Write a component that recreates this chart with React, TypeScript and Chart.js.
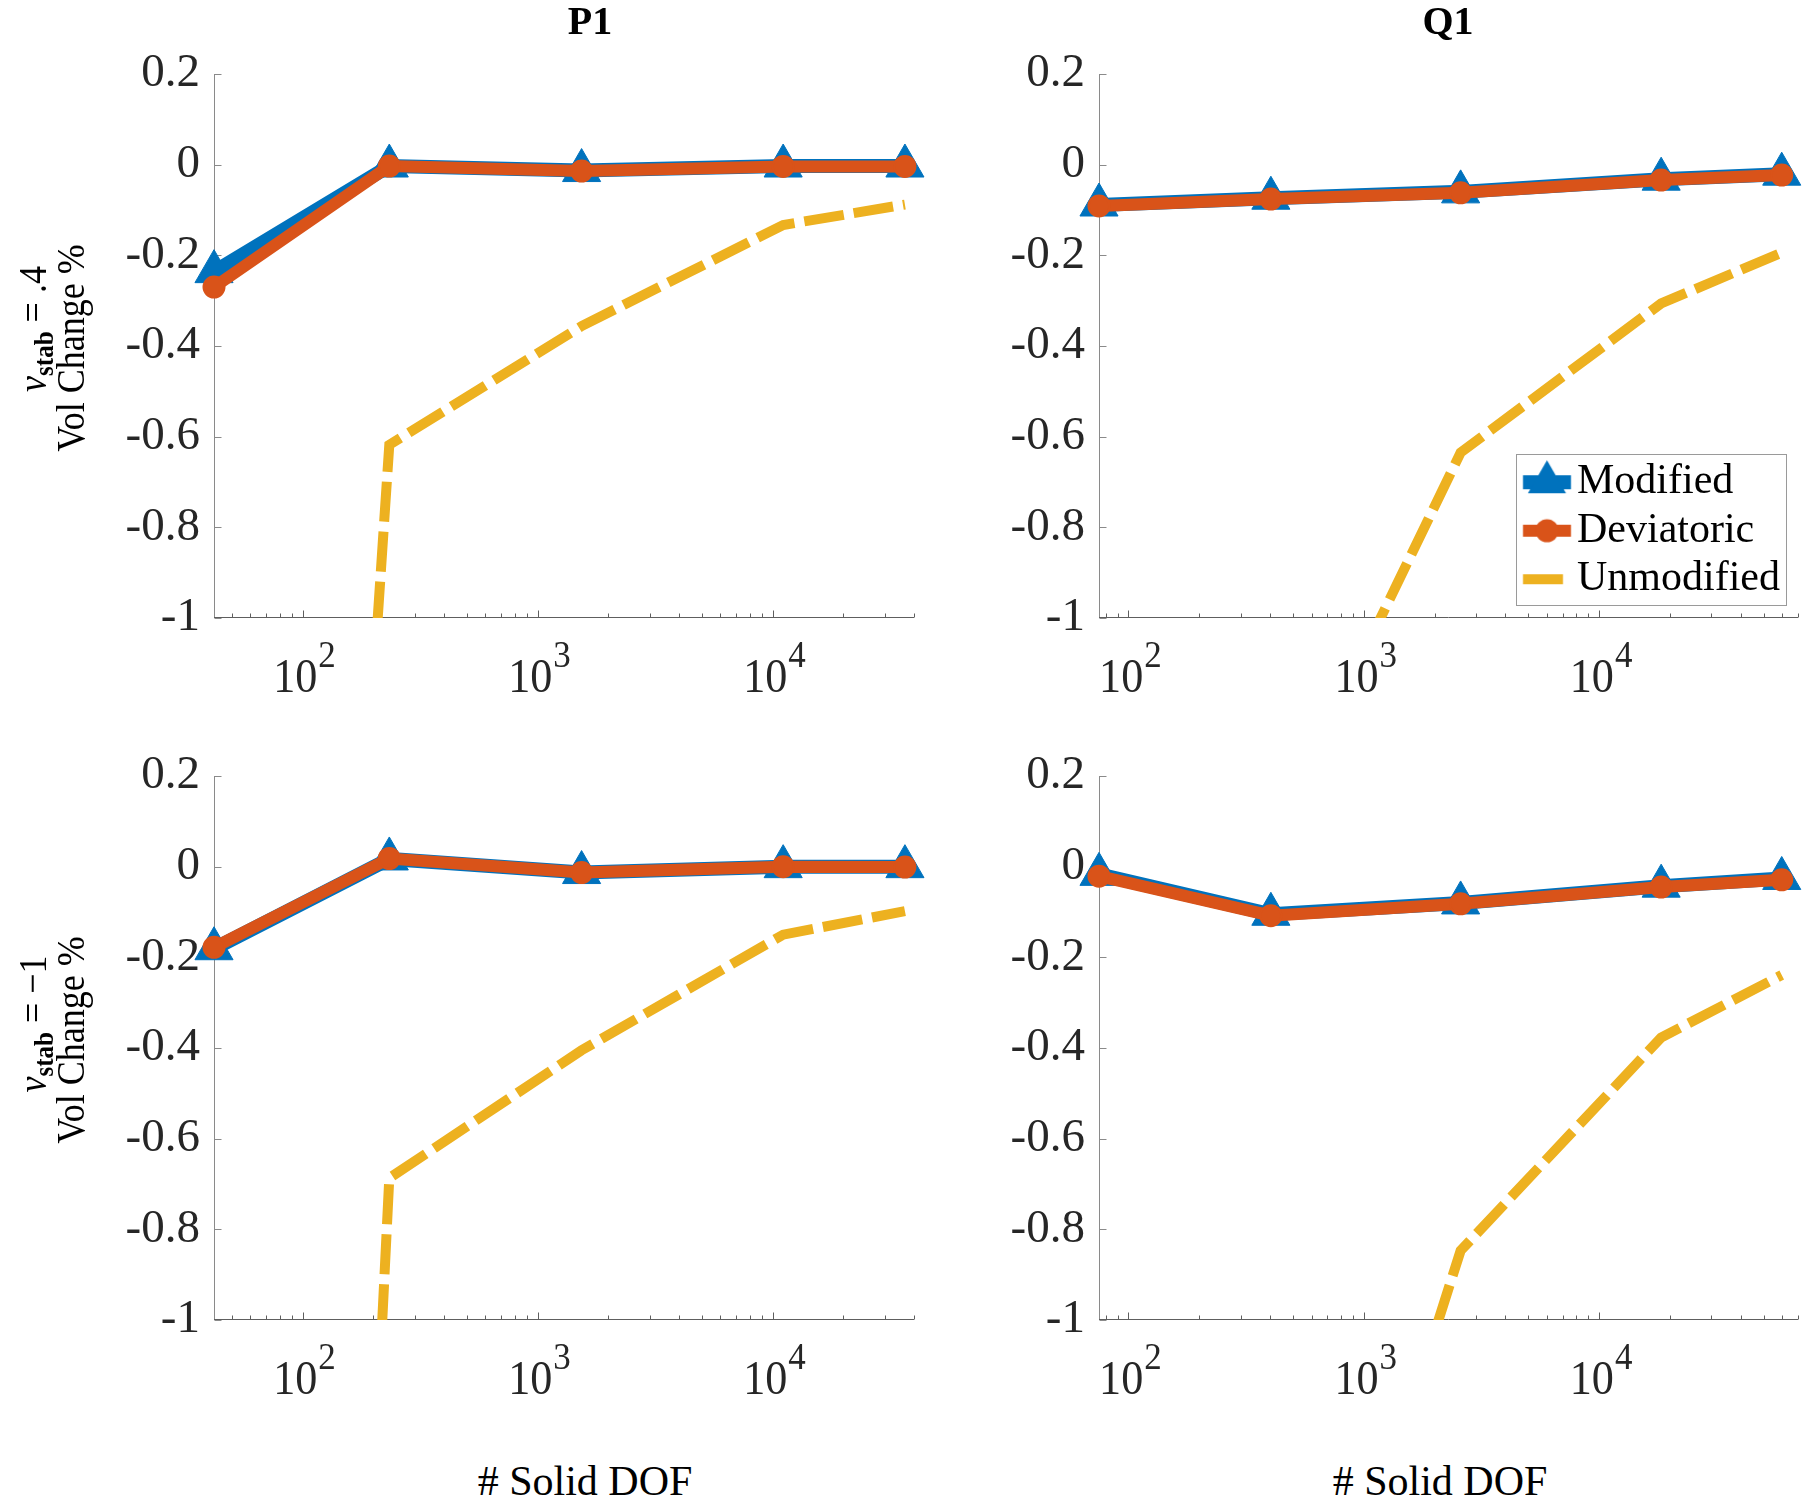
import React, { useEffect, useRef } from 'react';
import { Chart, registerables } from 'chart.js';

Chart.register(...registerables);

const SERIF = "'Liberation Serif', 'Times New Roman', Times, serif";
const TICK_COLOR = '#262626';

// ---------- data ----------
const SERIES = ['Modified', 'Deviatoric', 'Unmodified'];
const COLORS = ['#0072BD', '#D95319', '#EDB120'];

const P1_DOF = [42, 234, 1540, 11100, 36600];
const Q1_DOF = [75, 403, 2580, 18350, 59700];

const P1_NU04_MODIFIED = [-0.236, -0.003, -0.013, -0.003, -0.003];
const P1_NU04_DEVIATORIC = [-0.27, -0.003, -0.014, -0.004, -0.004];
const P1_NU04_UNMODIFIED = [-6.4, -0.618, -0.356, -0.133, -0.088];

const Q1_NU04_MODIFIED = [-0.089, -0.074, -0.06, -0.032, -0.021];
const Q1_NU04_DEVIATORIC = [-0.091, -0.076, -0.062, -0.034, -0.023];
const Q1_NU04_UNMODIFIED = [-2.6, -1.5, -0.635, -0.306, -0.194];

const P1_NUM1_MODIFIED = [-0.181, 0.017, -0.013, 0.0, 0.0];
const P1_NUM1_DEVIATORIC = [-0.178, 0.018, -0.013, 0.0, -0.001];
const P1_NUM1_UNMODIFIED = [-8.5, -0.687, -0.405, -0.15, -0.098];

const Q1_NUM1_MODIFIED = [-0.017, -0.105, -0.08, -0.043, -0.026];
const Q1_NUM1_DEVIATORIC = [-0.021, -0.108, -0.082, -0.045, -0.029];
const Q1_NUM1_UNMODIFIED = [-4.0, -2.16, -0.847, -0.377, -0.239];

const Y_TICKS = [-1, -0.8, -0.6, -0.4, -0.2, 0, 0.2];
const Y_LIM = [-1, 0.2];
const X_DECADES = [100, 1000, 10000];
const X_DECADE_EXPONENTS = ['2', '3', '4'];
const P1_XLIM = [42, 40000];
const Q1_XLIM = [75, 70000];
const COLUMN_TITLES = ['P1', 'Q1'];
const ROW_NU_VALUES = ['.4', '\u22121'];
const Y_TITLE = 'Vol Change %';
const X_TITLE = '# Solid DOF';

// ---------- layout ----------
const PAD_L = 200;
const PAD_T = 60;
const PAD_R = 30;
const PAD_B = 100;

const LEGEND_BOX = { left: 1516, top: 454, right: 1786, bottom: 605 };
const LEGEND_FONT = 42;
const LEGEND_PAD = 6.5;
const LEGEND_BOXW = 33.5;

const PANELS = [
  { key: 'tl', dof: P1_DOF, xlim: P1_XLIM, mod: P1_NU04_MODIFIED, dev: P1_NU04_DEVIATORIC, unmod: P1_NU04_UNMODIFIED, box: { L: 214, T: 74, R: 914, B: 618 }, legend: false },
  { key: 'tr', dof: Q1_DOF, xlim: Q1_XLIM, mod: Q1_NU04_MODIFIED, dev: Q1_NU04_DEVIATORIC, unmod: Q1_NU04_UNMODIFIED, box: { L: 1099, T: 74, R: 1798, B: 618 }, legend: true },
  { key: 'bl', dof: P1_DOF, xlim: P1_XLIM, mod: P1_NUM1_MODIFIED, dev: P1_NUM1_DEVIATORIC, unmod: P1_NUM1_UNMODIFIED, box: { L: 214, T: 776, R: 914, B: 1320 }, legend: false },
  { key: 'br', dof: Q1_DOF, xlim: Q1_XLIM, mod: Q1_NUM1_MODIFIED, dev: Q1_NUM1_DEVIATORIC, unmod: Q1_NUM1_UNMODIFIED, box: { L: 1099, T: 776, R: 1798, B: 1320 }, legend: false },
];

const LINE_W = [14, 12, 10];
const DASH = [40, 10];
const TRI_R = 22;
const CIRC_R = 10.5;

function makeIcons(): HTMLCanvasElement[] {
  const icons: HTMLCanvasElement[] = [];
  const iconW = 72;
  // content centre is shifted so that the icon sits at the MATLAB position
  const shift = LEGEND_BOX.left + 31 - (LEGEND_BOX.left + LEGEND_PAD + LEGEND_BOXW / 2);
  for (let i = 0; i < 3; i++) {
    const c = document.createElement('canvas');
    c.width = iconW;
    c.height = 50;
    const g = c.getContext('2d') as CanvasRenderingContext2D;
    const cx = iconW / 2 + shift;
    const cy = 25;
    g.strokeStyle = COLORS[i];
    g.fillStyle = COLORS[i];
    g.lineWidth = LINE_W[i];
    if (i === 2) g.setLineDash(DASH);
    g.beginPath();
    g.moveTo(cx - 24, cy);
    g.lineTo(cx + 24, cy);
    g.stroke();
    g.setLineDash([]);
    if (i === 0) {
      g.beginPath();
      let rad = 0;
      g.moveTo(cx + Math.sin(rad) * TRI_R, cy - Math.cos(rad) * TRI_R);
      rad += (2 * Math.PI) / 3;
      g.lineTo(cx + Math.sin(rad) * TRI_R, cy - Math.cos(rad) * TRI_R);
      rad += (2 * Math.PI) / 3;
      g.lineTo(cx + Math.sin(rad) * TRI_R, cy - Math.cos(rad) * TRI_R);
      g.closePath();
      g.fill();
    } else if (i === 1) {
      g.beginPath();
      g.arc(cx, cy, CIRC_R + 1, 0, Math.PI * 2);
      g.fill();
    }
    icons.push(c);
  }
  return icons;
}

const axesPlugin = {
  id: 'matlabAxes',
  beforeDatasetsDraw(chart: any) {
    const { ctx, chartArea: a, scales } = chart;
    const xs = scales.x;
    const ys = scales.y;
    ctx.save();
    ctx.lineWidth = 1;
    ctx.strokeStyle = '#8a8a8a';
    ctx.beginPath();
    const ax = Math.round(a.left) + 0.5;
    ctx.moveTo(ax, a.top);
    ctx.lineTo(ax, a.bottom);
    for (const v of Y_TICKS) {
      const py = Math.round(ys.getPixelForValue(v)) + 0.5;
      ctx.moveTo(ax, py);
      ctx.lineTo(ax + 7, py);
    }
    ctx.stroke();
    ctx.strokeStyle = '#5e5e5e';
    ctx.beginPath();
    const by = Math.round(a.bottom) - 0.5;
    ctx.moveTo(a.left, by);
    ctx.lineTo(a.right, by);
    const mn = xs.min;
    const mx = xs.max;
    for (let e = Math.floor(Math.log10(mn)); e <= Math.ceil(Math.log10(mx)); e++) {
      for (let m = 1; m <= 9; m++) {
        const v = m * Math.pow(10, e);
        if (v < mn * 0.9999 || v > mx * 1.0001) continue;
        const px = Math.round(xs.getPixelForValue(v)) + 0.5;
        const len = m === 1 ? 7 : 4;
        ctx.moveTo(px, by);
        ctx.lineTo(px, by - len);
      }
    }
    ctx.stroke();
    ctx.restore();
  },
  afterDraw(chart: any) {
    const { ctx, chartArea: a, scales } = chart;
    const xs = scales.x;
    const sx = 0.92;
    ctx.save();
    ctx.fillStyle = TICK_COLOR;
    ctx.textBaseline = 'alphabetic';
    ctx.textAlign = 'left';
    X_DECADES.forEach((v, i) => {
      const px = xs.getPixelForValue(v);
      ctx.font = `48px ${SERIF}`;
      const wb = ctx.measureText('10').width * sx;
      ctx.font = `38px ${SERIF}`;
      const we = ctx.measureText(X_DECADE_EXPONENTS[i]).width * sx;
      const total = wb + we + 1;
      const x0 = px - total / 2 + 2;
      ctx.save();
      ctx.translate(x0, a.bottom + 74);
      ctx.scale(sx, 1);
      ctx.font = `48px ${SERIF}`;
      ctx.fillText('10', 0, 0);
      ctx.restore();
      ctx.save();
      ctx.translate(x0 + wb + 1, a.bottom + 49);
      ctx.scale(sx, 1);
      ctx.font = `38px ${SERIF}`;
      ctx.fillText(X_DECADE_EXPONENTS[i], 0, 0);
      ctx.restore();
    });
    ctx.restore();
  },
};

function PanelChart({ panel }: { panel: any }) {
  const ref = useRef<HTMLCanvasElement>(null);
  const { L, T, R, B } = panel.box;
  const W = R - L + PAD_L + PAD_R;
  const H = B - T + PAD_T + PAD_B;
  const cLeft = L - PAD_L;
  const cTop = T - PAD_T;

  useEffect(() => {
    const canvas = ref.current as HTMLCanvasElement;
    const icons = makeIcons();
    const toPts = (ys: number[]) => panel.dof.map((x: number, i: number) => ({ x, y: ys[i] }));

    const legendPlugin = {
      id: 'legendPlace',
      afterLayout(chart: any) {
        const lg = chart.legend;
        if (!lg || !panel.legend) return;
        lg.left = LEGEND_BOX.left - cLeft;
        lg.top = LEGEND_BOX.top + 0.7 - cTop;
        lg.right = W;
        lg.bottom = H;
      },
      afterDraw(chart: any) {
        if (!panel.legend) return;
        const ctx = chart.ctx;
        ctx.save();
        ctx.strokeStyle = '#9a9a9a';
        ctx.lineWidth = 1;
        ctx.strokeRect(
          LEGEND_BOX.left - cLeft + 0.5,
          LEGEND_BOX.top - cTop + 0.5,
          LEGEND_BOX.right - LEGEND_BOX.left,
          LEGEND_BOX.bottom - LEGEND_BOX.top
        );
        ctx.restore();
      },
    };

    const chart = new Chart(canvas, {
      type: 'line',
      data: {
        datasets: [
          {
            label: SERIES[0],
            data: toPts(panel.mod),
            borderColor: COLORS[0],
            backgroundColor: COLORS[0],
            borderWidth: LINE_W[0],
            pointStyle: 'triangle',
            pointRadius: TRI_R,
            pointBorderWidth: 1,
            pointBackgroundColor: COLORS[0],
            pointBorderColor: COLORS[0],
            order: 1,
            clip: false,
          },
          {
            label: SERIES[1],
            data: toPts(panel.dev),
            borderColor: COLORS[1],
            backgroundColor: COLORS[1],
            borderWidth: LINE_W[1],
            pointStyle: 'circle',
            pointRadius: CIRC_R,
            pointBorderWidth: 2,
            pointBackgroundColor: COLORS[1],
            pointBorderColor: COLORS[1],
            order: 0,
            clip: false,
          },
          {
            label: SERIES[2],
            data: toPts(panel.unmod),
            borderColor: COLORS[2],
            backgroundColor: COLORS[2],
            borderWidth: LINE_W[2],
            borderDash: DASH,
            pointRadius: 0,
            order: 2,
            clip: 0,
          },
        ],
      } as any,
      options: {
        animation: false,
        responsive: false,
        devicePixelRatio: 1,
        events: [],
        layout: { padding: { left: 0, top: PAD_T, right: PAD_R, bottom: 0 } },
        elements: { line: { tension: 0 } },
        scales: {
          x: {
            type: 'logarithmic',
            min: panel.xlim[0],
            max: panel.xlim[1],
            ticks: { display: false },
            grid: { display: false, drawTicks: false },
            border: { display: false },
            afterFit: (s: any) => {
              s.height = PAD_B;
            },
          },
          y: {
            type: 'linear',
            min: Y_LIM[0],
            max: Y_LIM[1],
            ticks: {
              stepSize: 0.2,
              padding: 14,
              color: TICK_COLOR,
              font: { family: SERIF, size: 47 },
              callback: (v: any) => String(Number(Number(v).toFixed(1))),
            },
            grid: { display: false, drawTicks: false },
            border: { display: false },
            afterFit: (s: any) => {
              s.width = PAD_L;
            },
          },
        },
        plugins: {
          tooltip: { enabled: false },
          title: { display: false },
          legend: {
            display: panel.legend,
            position: 'chartArea',
            align: 'start',
            labels: {
              usePointStyle: true,
              pointStyleWidth: LEGEND_BOXW,
              padding: LEGEND_PAD,
              color: '#000',
              font: { family: SERIF, size: LEGEND_FONT },
              generateLabels: () =>
                SERIES.map((name, i) => ({
                  text: name,
                  fillStyle: COLORS[i],
                  strokeStyle: COLORS[i],
                  lineWidth: 0,
                  pointStyle: icons[i],
                  hidden: false,
                  datasetIndex: i,
                  fontColor: '#000',
                })),
            },
          },
        },
      } as any,
      plugins: [axesPlugin, legendPlugin],
    });
    return () => chart.destroy();
  }, []);

  return (
    <canvas
      ref={ref}
      width={W}
      height={H}
      style={{ position: 'absolute', left: cLeft, top: cTop, width: W, height: H }}
    />
  );
}

function TextAt({ x, baseline, size, bold, children }: any) {
  const lh = Math.round(size * 1.2);
  const top = baseline - (lh - 1.107 * size) / 2 - 0.891 * size;
  return (
    <div
      style={{
        position: 'absolute',
        left: x - 300,
        width: 600,
        top,
        textAlign: 'center',
        fontFamily: SERIF,
        fontSize: size,
        fontWeight: bold ? 'bold' : 'normal',
        lineHeight: `${lh}px`,
        color: '#000',
        whiteSpace: 'nowrap',
      }}
    >
      {children}
    </div>
  );
}

// rotated text, centred on (cx, cy); glyph heights stretched like the reference
function RotText({ cx, cy, size, children }: any) {
  return (
    <div
      style={{
        position: 'absolute',
        left: cx,
        top: cy,
        transform: 'translate(-50%, -50%) rotate(-90deg) scaleY(1.13)',
        fontFamily: SERIF,
        fontSize: size,
        lineHeight: `${size}px`,
        height: size,
        color: '#000',
        whiteSpace: 'nowrap',
      }}
    >
      {children}
    </div>
  );
}

function YLabel({ lineCy, nuCy, nu }: any) {
  return (
    <>
      <RotText cx={31.5} cy={nuCy} size={36}>
        <span style={{ fontStyle: 'italic' }}>ν</span>
        <span style={{ fontWeight: 'bold', fontSize: 25, verticalAlign: -7, lineHeight: '0px' }}>stab</span>
        {' = '}
        {nu}
      </RotText>
      <RotText cx={70.3} cy={lineCy} size={36}>
        {Y_TITLE}
      </RotText>
    </>
  );
}

export default function App() {
  return (
    <div
      style={{
        position: 'absolute',
        left: 0,
        top: 0,
        width: 1809,
        height: 1506,
        background: '#fff',
        overflow: 'hidden',
      }}
    >
      {PANELS.map((p) => (
        <PanelChart key={p.key} panel={p} />
      ))}
      <TextAt x={590} baseline={34.5} size={40} bold>
        {COLUMN_TITLES[0]}
      </TextAt>
      <TextAt x={1448} baseline={34.5} size={40} bold>
        {COLUMN_TITLES[1]}
      </TextAt>
      <TextAt x={585} baseline={1495} size={42}>
        {X_TITLE}
      </TextAt>
      <TextAt x={1440} baseline={1495} size={42}>
        {X_TITLE}
      </TextAt>
      <YLabel lineCy={348} nuCy={329} nu={ROW_NU_VALUES[0]} />
      <YLabel lineCy={1040} nuCy={1024} nu={ROW_NU_VALUES[1]} />
    </div>
  );
}
